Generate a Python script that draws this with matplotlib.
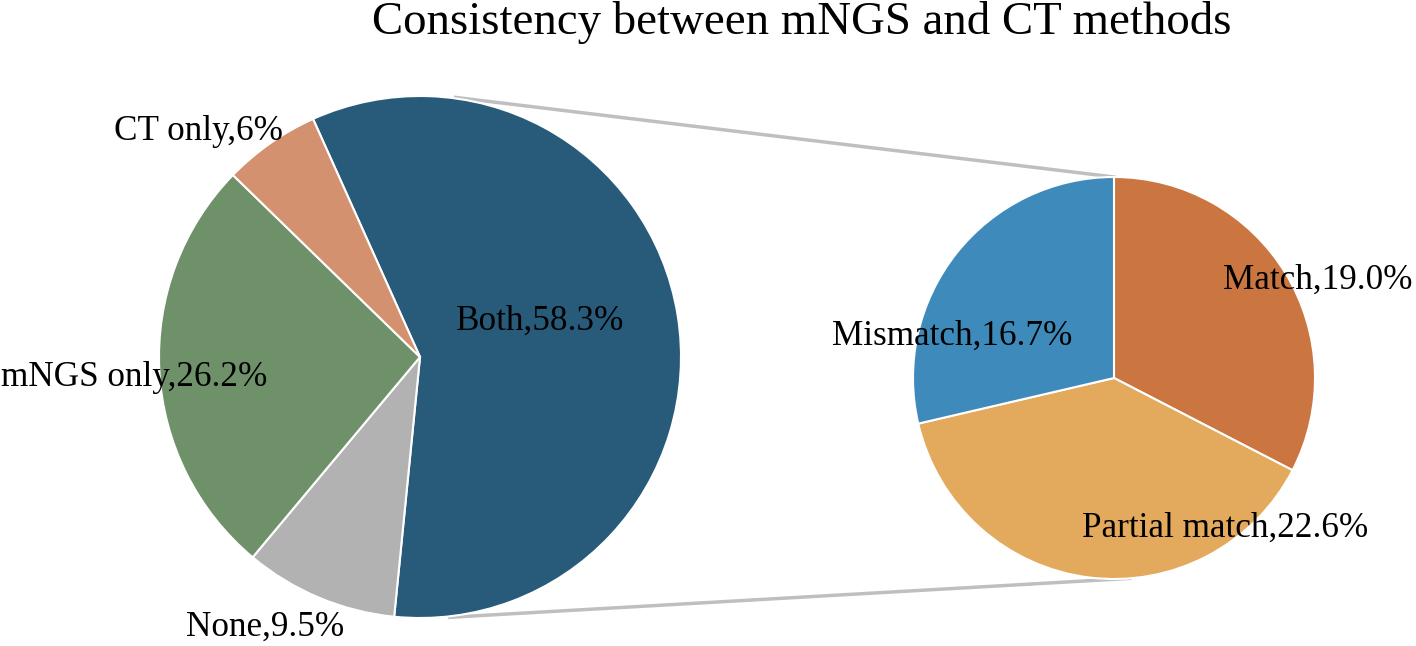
import numpy as np
import matplotlib.pyplot as plt

plt.rcParams['font.family'] = ['Liberation Serif', 'DejaVu Serif']

# main pie
main_labels = ['Both', 'None', 'mNGS only', 'CT only']
main_values = [58.3, 9.5, 26.2, 6.0]
main_text = ['Both,58.3%', 'None,9.5%', 'mNGS only,26.2%', 'CT only,6%']
main_colors = ['#285A7A', '#B2B2B2', '#6F9169', '#D4916F']

# breakdown of "Both"
sub_labels = ['Match', 'Partial match', 'Mismatch']
sub_values = [19.0, 22.6, 16.7]
sub_text = ['Match,19.0%', 'Partial match,22.6%', 'Mismatch,16.7%']
sub_colors = ['#CB7641', '#E3A95C', '#3E8ABB']

W, H = 1416, 646
fig = plt.figure(figsize=(W / 100, H / 100), dpi=100)
ax = fig.add_axes([0, 0, 1, 1])

c1, r1 = (420, 289), 261
c2, r2 = (1114, 268), 201

ax.pie(main_values, colors=main_colors, startangle=114.2, counterclock=False,
       center=c1, radius=r1, wedgeprops=dict(edgecolor='white', linewidth=1.5))
ax.pie(sub_values, colors=sub_colors, startangle=90, counterclock=False,
       center=c2, radius=r2, wedgeprops=dict(edgecolor='white', linewidth=1.5))

ax.set_xlim(0, W)
ax.set_ylim(0, H)
ax.set_aspect('equal')
ax.axis('off')

# connector lines (main pie edge -> secondary pie edge)
def edge(c, r, ang):
    a = np.deg2rad(ang)
    return c[0] + r * np.cos(a), c[1] + r * np.sin(a)

for a1, a2 in [(82.2, 90), (-83.5, -85.5)]:
    p1 = edge(c1, r1 + 1, a1)
    p2 = edge(c2, r2, a2)
    ax.plot([p1[0], p2[0]], [p1[1], p2[1]], color='#BFBFBF', lw=2.5, zorder=0)

fs = 25.3
main_pos = [(540, 325), (265, 19), (134, 269), (199, 515)]
for t, (x, y) in zip(main_text, main_pos):
    ax.text(x, y, t, fontsize=fs, ha='center', va='center')

sub_pos = [(1318, 366), (1225, 118), (952, 310)]
for t, (x, y) in zip(sub_text, sub_pos):
    ax.text(x, y, t, fontsize=fs, ha='center', va='center')

fig.text(802 / W, 1 - 22 / H, 'Consistency between mNGS and CT methods',
         fontsize=33.7, ha='center', va='center')

fig.savefig('out.png', dpi=100)
